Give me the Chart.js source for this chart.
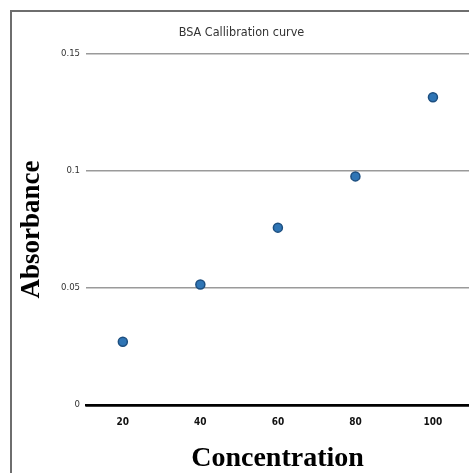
<!DOCTYPE html>
<html>
<head>
<meta charset="utf-8">
<script src="https://cdn.jsdelivr.net/npm/chart.js@4.4.1/dist/chart.umd.min.js"></script>
<style>
  body { margin: 0; background: #fff; }
  #wrap { position: relative; width: 469px; height: 473px; overflow: hidden; }
  #frame { position: absolute; left: 10px; top: 10px; right: -5px; bottom: -5px;
           border-left: 2px solid #6e6e6e; border-top: 2px solid #6e6e6e; }
  #myChart { position: absolute; left: 0; top: 0; }
</style>
</head>
<body>
<div id="wrap">
  <div id="frame"></div>
  <canvas id="myChart" width="469" height="473"></canvas>
</div>
<script>
// data
let concentration = [20, 40, 60, 80, 100];
let absorbance = [0.027, 0.0515, 0.0758, 0.0977, 0.1315];
let xTicks = [20, 40, 60, 80, 100];
let yTicks = [0, 0.05, 0.1, 0.15];

let points = concentration.map(function(c, i) {
  return { x: c, y: absorbance[i] };
});

let narrow = "'Liberation Sans Narrow', 'DejaVu Sans Condensed', sans-serif";
let serif = "'Liberation Serif', 'DejaVu Serif', serif";

var ctx = document.getElementById('myChart').getContext('2d');

var bsaChart = new Chart(ctx, {
  type: 'scatter',
  data: {
    datasets: [{
      label: 'Absorbance',
      data: points,
      backgroundColor: '#2f75b5',
      borderColor: '#1d4f80',
      borderWidth: 1.5,
      pointRadius: 4.5
    }]
  },
  options: {
    responsive: false,
    animation: false,
    layout: {
      autoPadding: false,
      padding: { left: 14, right: 0, top: 0, bottom: 0 }
    },
    plugins: {
      legend: { display: false },
      tooltip: { enabled: false },
      title: {
        display: true,
        text: 'BSA Callibration curve',
        color: '#333',
        font: { family: narrow, size: 12.5, weight: 'normal' },
        padding: { top: 25, bottom: 14 }
      }
    },
    scales: {
      x: {
        type: 'linear',
        min: 10.5,
        max: 109.3,
        afterBuildTicks: function(scale) {
          scale.ticks = xTicks.map(function(v) { return { value: v }; });
        },
        afterFit: function(scale) {
          scale.height = 68;
        },
        grid: { display: false, drawTicks: false },
        border: { display: true, color: '#000', width: 2.5 },
        ticks: {
          color: '#111',
          padding: 11,
          font: { family: narrow, size: 10, weight: 'bold' }
        },
        title: {
          display: true,
          text: 'Concentration',
          color: '#000',
          font: { family: serif, size: 28, weight: 'bold' },
          padding: { top: 0, bottom: -3 }
        }
      },
      y: {
        min: 0,
        max: 0.15,
        afterBuildTicks: function(scale) {
          scale.ticks = yTicks.map(function(v) { return { value: v }; });
        },
        afterFit: function(scale) { scale.width = 72; },
        grid: {
          drawTicks: false,
          color: function(c) { return c.tick && c.tick.value === 0 ? '#000' : '#9a9a9a'; },
          lineWidth: function(c) { return c.tick && c.tick.value === 0 ? 2.5 : 1.5; }
        },
        border: { display: false },
        ticks: {
          color: '#333',
          padding: 6,
          font: { family: narrow, size: 9.5 },
          callback: function(v) { return String(v); }
        },
        title: {
          display: true,
          text: 'Absorbance',
          color: '#000',
          font: { family: serif, size: 27, weight: 'bold' },
          padding: { top: 2, bottom: 0 }
        }
      }
    }
  }
});
</script>
</body>
</html>
